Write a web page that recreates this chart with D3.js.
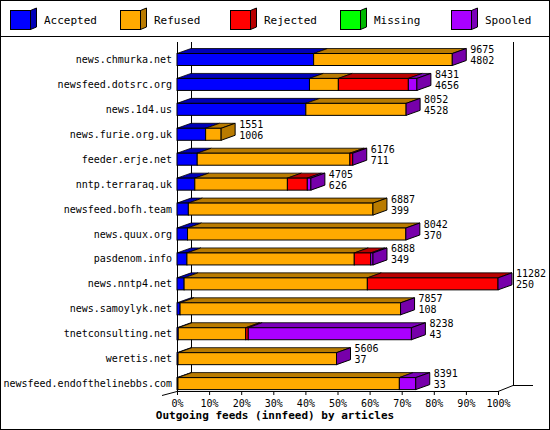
<!DOCTYPE html>
<html><head><meta charset="utf-8">
<script src="https://cdn.jsdelivr.net/npm/d3@7"></script>
<style>body{margin:0;background:#fff}text{font-family:"DejaVu Sans Mono",monospace;font-size:10px}</style>
</head><body><div id="chart"></div>
<script>
const hosts = ["news.chmurka.net","newsfeed.dotsrc.org","news.1d4.us","news.furie.org.uk","feeder.erje.net","nntp.terraraq.uk","newsfeed.bofh.team","news.quux.org","pasdenom.info","news.nntp4.net","news.samoylyk.net","tnetconsulting.net","weretis.net","newsfeed.endofthelinebbs.com"];
const accepted = [4802,4656,4528,1006,711,626,399,370,349,250,108,43,37,33];
const refused  = [4873,1015,3524,545,5365,3254,6488,7672,5881,6440,7749,2371,5569,7782];
const rejected = [0,2460,0,0,100,700,0,0,578,4592,0,91,0,0];
const missing  = [0,0,0,0,0,0,0,0,0,0,0,0,0,0];
const spooled  = [0,300,0,0,0,125,0,0,80,0,0,5733,0,576];
const totals   = [9675,8431,8052,1551,6176,4705,6887,8042,6888,11282,7857,8238,5606,8391];
const series = ["Accepted","Refused","Rejected","Missing","Spooled"];
const colors = ["#0000ff","#ffaa00","#ff0000","#00ff00","#aa00ff"];
const ticks = [0,10,20,30,40,50,60,70,80,90,100];

const W = 550, H = 430, dx = 14, dy = 5;
const svg = d3.select("#chart").append("svg").attr("width", W).attr("height", H);
const dark = c => d3.color(c).darker(0.9).formatHex();

svg.append("rect").attr("x",0.5).attr("y",0.5).attr("width",W-1).attr("height",H-1).attr("fill","#fff").attr("stroke","#000");
svg.append("line").attr("x1",0).attr("x2",W).attr("y1",36.5).attr("y2",36.5).attr("stroke","#000");

// legend
const legX = [10,120,230,340,451];
series.forEach((s,i) => {
  const g = svg.append("g").attr("transform",`translate(${legX[i]},10)`);
  g.append("path").attr("d","M20.5,0.5 L26.5,-2 L26.5,17 L20.5,19.5 Z").attr("fill",dark(colors[i])).attr("stroke","#000");
  g.append("rect").attr("x",0.5).attr("y",0.5).attr("width",20).attr("height",19).attr("fill",colors[i]).attr("stroke","#000");
  g.append("text").attr("x",34).attr("y",14).style("font-size","11px").text(s);
});

const x0 = 177;
const x = d3.scaleLinear().domain([0,100]).range([x0,498]);
const maxT = d3.max(totals);
const bh = 12;
const yPos = i => 53 + i*24.93;

// back wall and floor
const line = (a,b,c,d) => svg.append("line").attr("x1",a).attr("y1",b).attr("x2",c).attr("y2",d).attr("stroke","#000");
line(x0+0.5,42,x0+0.5,391);
line(x0+dx+0.5,42,x0+dx+0.5,386);
line(513.5,42,513.5,386);
line(x0,391.5,498,391.5);
line(498,391.5,513,385.5);
line(513,385.5,533,385.5);
line(x0,391.5,162,395.5);

// axis ticks
const ax = svg.append("g").attr("transform","translate(0,391)")
  .call(d3.axisBottom(x).tickValues(ticks).tickSize(4).tickFormat(d => d+"%"));
ax.select(".domain").remove();
ax.selectAll("text").attr("font-family","DejaVu Sans Mono").attr("font-size",10).attr("fill","#000").attr("dy","0.9em");
ax.selectAll("line").attr("stroke","#000");
svg.append("text").attr("x",275).attr("y",419).attr("text-anchor","middle").attr("font-weight","bold").style("font-size","11px").text("Outgoing feeds (innfeed) by articles");

const data = [accepted,refused,rejected,missing,spooled];
hosts.forEach((h,i) => {
  const top = yPos(i);
  const g = svg.append("g");
  let cum = 0, segs = [];
  data.forEach((arr,k) => {
    const v = arr[i];
    if (v > 0) segs.push({k, a: x(cum/maxT*100), b: x((cum+v)/maxT*100)});
    cum += v;
  });
  segs.forEach(s => g.append("path")
    .attr("d",`M${s.a},${top+0.5} L${s.a+dx},${top-dy+0.5} L${s.b+dx},${top-dy+0.5} L${s.b},${top+0.5} Z`)
    .attr("fill",dark(colors[s.k])).attr("stroke","#000").attr("stroke-width",0.8));
  segs.forEach(s => g.append("rect").attr("x",s.a).attr("y",top+0.5).attr("width",s.b-s.a).attr("height",bh)
    .attr("fill",colors[s.k]).attr("stroke","#000"));
  const last = segs[segs.length-1], e = last.b;
  const sideC = (i === 3 || i === 6) ? dark(colors[1]) : "#7700aa";
  g.append("path").attr("d",`M${e},${top+0.5} L${e+dx},${top-dy+0.5} L${e+dx},${top-dy+bh+0.5} L${e},${top+bh+0.5} Z`)
    .attr("fill",sideC).attr("stroke","#000");
  svg.append("text").attr("x",x0-5).attr("y",top+10).attr("text-anchor","end").text(h);
  svg.append("text").attr("x",e+dx+4).attr("y",top).text(totals[i]);
  svg.append("text").attr("x",e+dx+4).attr("y",top+11).text(accepted[i]);
});
</script></body></html>
